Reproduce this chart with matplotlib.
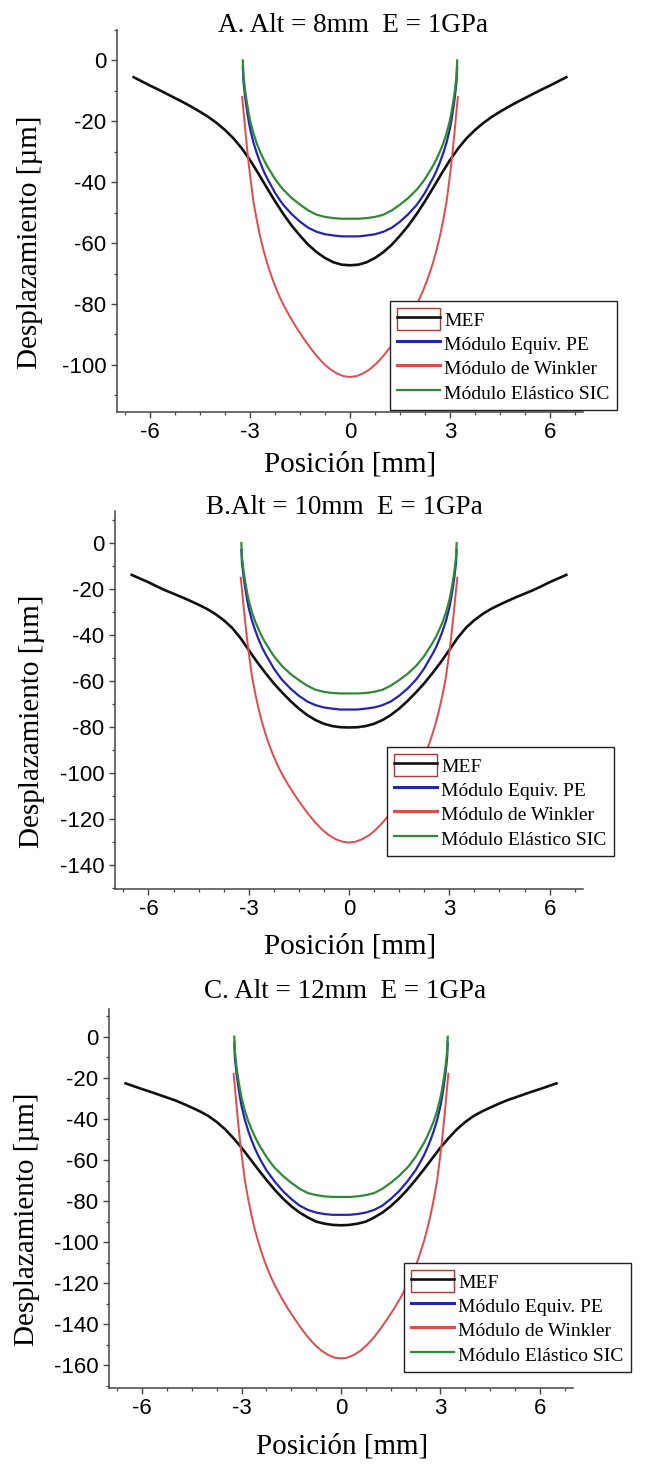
import matplotlib
matplotlib.use("Agg")
import matplotlib.pyplot as plt
import matplotlib.patches as mpatches
from matplotlib.lines import Line2D
from matplotlib.legend_handler import HandlerTuple
from matplotlib.ticker import MultipleLocator

# ---- data (x in mm, y in um) ----
x_mef = [-6.5, -6.25, -6.0, -5.75, -5.5, -5.25, -5.0, -4.75, -4.5, -4.25, -4.0, -3.75, -3.5,
         -3.25, -3.0, -2.75, -2.5, -2.25, -2.0, -1.75, -1.5, -1.25, -1.0, -0.75, -0.5, -0.25, 0,
         0.25, 0.5, 0.75, 1.0, 1.25, 1.5, 1.75, 2.0, 2.25, 2.5, 2.75, 3.0, 3.25,
         3.5, 3.75, 4.0, 4.25, 4.5, 4.75, 5.0, 5.25, 5.5, 5.75, 6.0, 6.25, 6.5]
x_sic = [-3.22, -3.2, -3.15, -3.1, -3.05, -3.0, -2.9, -2.8, -2.7, -2.6, -2.5, -2.4, -2.25, -2.1,
         -2.0, -1.75, -1.5, -1.25, -1.0, -0.75, -0.5, -0.25, 0,
         0.25, 0.5, 0.75, 1.0, 1.25, 1.5, 1.75, 2.0, 2.1, 2.25, 2.4, 2.5, 2.6, 2.7, 2.8, 2.9,
         3.0, 3.05, 3.1, 3.15, 3.2, 3.22]
x_wink = [-3.24, -3.2, -3.15, -3.1, -3.05, -3.0, -2.9, -2.8, -2.7, -2.6, -2.5, -2.4, -2.3, -2.2,
          -2.1, -2.0, -1.8, -1.6, -1.4, -1.2, -1.0, -0.8, -0.6, -0.4, -0.2, 0,
          0.2, 0.4, 0.6, 0.8, 1.0, 1.2, 1.4, 1.6, 1.8, 2.0, 2.1, 2.2, 2.3, 2.4, 2.5, 2.6, 2.7,
          2.8, 2.9, 3.0, 3.05, 3.1, 3.15, 3.2, 3.24]

# A. Alt = 8mm
mef_a = [-5.5, -6.9, -8.3, -9.6, -11.0, -12.4, -13.8, -15.3, -16.9, -18.6, -20.6, -22.9, -25.6,
         -28.9, -32.8, -37.2, -41.8, -46.3, -50.5, -54.3, -57.6, -60.6, -63.0, -64.9, -66.3, -67.1,
         -67.3,
         -67.1, -66.3, -64.9, -63.0, -60.6, -57.6, -54.3, -50.5, -46.3, -41.8, -37.2, -32.8, -28.9,
         -25.6, -22.9, -20.6, -18.6, -16.9, -15.3, -13.8, -12.4, -11.0, -9.6, -8.3, -6.9, -5.5]
pe_a = [-2, -7, -12, -16, -19.5, -22.5, -27, -30.5, -33.5, -36.2, -38.5, -40.5, -43.5, -46,
        -47.5, -50.5, -53, -55, -56.3, -57.1, -57.5, -57.8, -57.8,
        -57.8, -57.5, -57.1, -56.3, -55, -53, -50.5, -47.5, -46, -43.5, -40.5, -38.5, -36.2,
        -33.5, -30.5, -27, -22.5, -19.5, -16, -12, -7, -2]
sic_a = [0, -5, -10, -13.7, -17, -19.8, -24, -27.3, -30, -32.4, -34.5, -36.3, -39, -41.2,
         -42.5, -45.2, -47.4, -49.3, -50.7, -51.4, -51.8, -52.0, -52.0,
         -52.0, -51.8, -51.4, -50.7, -49.3, -47.4, -45.2, -42.5, -41.2, -39, -36.3, -34.5, -32.4,
         -30, -27.3, -24, -19.8, -17, -13.7, -10, -5, 0]
wink_a = [-12, -16.5, -22.5, -28, -33.3, -38, -46.5, -52.5, -57.8, -62.3, -66.2, -69.6, -72.7,
          -75.5, -78.0, -80.3, -84.3, -87.9, -91.2, -94.3, -97.1, -99.5, -101.4, -102.8, -103.7,
          -104,
          -103.7, -102.8, -101.4, -99.5, -97.1, -94.3, -91.2, -87.9, -84.3, -80.3, -78.0, -75.5,
          -72.7, -69.6, -66.2, -62.3, -57.8, -52.5, -46.5, -38, -33.3, -28, -22.5, -16.5, -12]

# B. Alt = 10mm
mef_b = [-13.8, -15.4, -17.0, -18.8, -20.5, -22.0, -23.5, -25.1, -26.8, -28.6, -30.8, -33.5, -36.8,
         -41.2, -46.5, -51.7, -56.5, -61.0, -65.0, -68.7, -72.0, -74.8, -77.0, -78.6, -79.6, -80.1,
         -80.2,
         -80.1, -79.6, -78.6, -77.0, -74.8, -72.0, -68.7, -65.0, -61.0, -56.5, -51.7, -46.5, -41.2,
         -36.8, -33.5, -30.8, -28.6, -26.8, -25.1, -23.5, -22.0, -20.5, -18.8, -17.0, -15.4, -13.8]
pe_b = [-3, -8.8, -15, -20, -24.4, -28.2, -33.8, -38.2, -42, -45.4, -48.2, -50.7, -54.5, -57.6,
        -59.5, -63.3, -66.4, -68.9, -70.5, -71.5, -72, -72.4, -72.4,
        -72.4, -72, -71.5, -70.5, -68.9, -66.4, -63.3, -59.5, -57.6, -54.5, -50.7, -48.2, -45.4,
        -42, -38.2, -33.8, -28.2, -24.4, -20, -15, -8.8, -3]
sic_b = [0, -6.3, -12.6, -17.2, -21.4, -24.9, -30.2, -34.3, -37.7, -40.8, -43.4, -45.7, -49.1,
         -51.8, -53.5, -56.9, -59.6, -62, -63.8, -64.7, -65.2, -65.4, -65.4,
         -65.4, -65.2, -64.7, -63.8, -62, -59.6, -56.9, -53.5, -51.8, -49.1, -45.7, -43.4, -40.8,
         -37.7, -34.3, -30.2, -24.9, -21.4, -17.2, -12.6, -6.3, 0]
wink_b = [-15, -20.5, -28, -35, -41.7, -47.6, -58.3, -65.8, -72.4, -78, -82.9, -87.2, -91.1,
          -94.6, -97.7, -100.6, -105.6, -110.1, -114.3, -118.2, -121.7, -124.7, -127.1, -128.8,
          -129.9, -130.3,
          -129.9, -128.8, -127.1, -124.7, -121.7, -118.2, -114.3, -110.1, -105.6, -100.6, -97.7,
          -94.6, -91.1, -87.2, -82.9, -78, -72.4, -65.8, -58.3, -47.6, -41.7, -35, -28, -20.5, -15]

# C. Alt = 12mm
mef_c = [-22.7, -24.1, -25.5, -26.8, -28.2, -29.6, -31.0, -32.7, -34.5, -36.4, -38.6, -41.5, -45.0,
         -49.3, -54.0, -59.3, -64.6, -69.7, -74.5, -78.8, -82.5, -85.6, -88.0, -90.0, -91.0, -91.6,
         -91.8,
         -91.6, -91.0, -90.0, -88.0, -85.6, -82.5, -78.8, -74.5, -69.7, -64.6, -59.3, -54.0, -49.3,
         -45.0, -41.5, -38.6, -36.4, -34.5, -32.7, -31.0, -29.6, -28.2, -26.8, -25.5, -24.1, -22.7]
pe_c = [-3, -10.5, -18, -24, -29.3, -33.8, -40.5, -45.8, -50.3, -54.3, -57.8, -60.8, -65.0, -68.3,
        -70.5, -75.2, -79.0, -82.2, -84.3, -85.6, -86.3, -86.7, -86.7,
        -86.7, -86.3, -85.6, -84.3, -82.2, -79.0, -75.2, -70.5, -68.3, -65.0, -60.8, -57.8, -54.3,
        -50.3, -45.8, -40.5, -33.8, -29.3, -24, -18, -10.5, -3]
sic_c = [0, -7.5, -15, -20.6, -25.5, -29.7, -36, -41, -45, -48.6, -51.8, -54.5, -58.5, -61.8,
         -63.8, -67.8, -71.1, -74, -76.1, -77.1, -77.7, -78, -78,
         -78, -77.7, -77.1, -76.1, -74, -71.1, -67.8, -63.8, -61.8, -58.5, -54.5, -51.8, -48.6,
         -45, -41, -36, -29.7, -25.5, -20.6, -15, -7.5, 0]
wink_c = [-18, -24.8, -33.9, -42.2, -50.2, -57.2, -70, -79, -87, -93.8, -99.7, -104.8, -109.5,
          -113.7, -117.5, -120.9, -127, -132.4, -137.3, -142, -146.2, -149.8, -152.7, -154.8,
          -156.2, -156.6,
          -156.2, -154.8, -152.7, -149.8, -146.2, -142, -137.3, -132.4, -127, -120.9, -117.5,
          -113.7, -109.5, -104.8, -99.7, -93.8, -87, -79, -70, -57.2, -50.2, -42.2, -33.9, -24.8, -18]

titles = ["A. Alt = 8mm  E = 1GPa", "B.Alt = 10mm  E = 1GPa", "C. Alt = 12mm  E = 1GPa"]
labels = ["MEF", "Módulo Equiv. PE", "Módulo de Winkler", "Módulo Elástico SIC"]
ylims = [(-115.5, 10), (-150.5, 14), (-171, 13.5)]

c_mef = "#111111"
c_pe = "#2424b4"
c_wink = "#e04a4a"
c_sic = "#2f8a35"

serif = "Liberation Serif"
sans = "Liberation Sans"

W, H = 660, 1469
fig = plt.figure(figsize=(6.6, 14.69), dpi=100)

# pixel boxes: left, right, top, bottom
boxes = [(117, 583, 30, 412), (115, 583, 511, 889), (109, 573, 1009, 1388)]
title_pos = [(353, 25), (344, 508), (345, 992)]
xlab_pos = [(350, 464), (350, 947), (342, 1447)]
ylab_pos = [(30, 242), (32, 721), (27, 1219)]
leg_pos = [(390, 301), (387, 747), (404, 1263)]

panels = [(mef_a, pe_a, wink_a, sic_a), (mef_b, pe_b, wink_b, sic_b), (mef_c, pe_c, wink_c, sic_c)]

for i, (mef, pe, wink, sic) in enumerate(panels):
    l, r, t, b = boxes[i]
    ax = fig.add_axes([l / W, 1 - b / H, (r - l) / W, (b - t) / H])
    ax.plot(x_mef, mef, color=c_mef, lw=1.9)
    ax.plot(x_sic, pe, color=c_pe, lw=1.6)
    ax.plot(x_wink, wink, color=c_wink, lw=1.4)
    ax.plot(x_sic, sic, color=c_sic, lw=1.6)

    ax.set_xlim(-7, 7)
    ax.set_ylim(*ylims[i])
    ax.xaxis.set_major_locator(MultipleLocator(3))
    ax.xaxis.set_minor_locator(MultipleLocator(0.75))
    ax.yaxis.set_major_locator(MultipleLocator(20))
    ax.yaxis.set_minor_locator(MultipleLocator(10))
    for s in ["top", "right"]:
        ax.spines[s].set_visible(False)
    for s in ["left", "bottom"]:
        ax.spines[s].set_color("#444444")
        ax.spines[s].set_linewidth(1.1)
    ax.tick_params(which="major", direction="out", length=4.5, width=1.0, color="#444444",
                   labelsize=16, pad=3)
    ax.tick_params(which="minor", direction="out", length=2.5, width=0.9, color="#444444")
    for lab in ax.get_xticklabels() + ax.get_yticklabels():
        lab.set_fontfamily(sans)
    ax.yaxis.set_major_formatter(plt.FuncFormatter(lambda v, p: "%d" % v))
    ax.xaxis.set_major_formatter(plt.FuncFormatter(lambda v, p: "%d" % v))

    # Origin-style legend: the MEF entry carries a red outlined box behind the line
    mef_handle = (mpatches.Rectangle((0, 0), 1, 1, facecolor="white", edgecolor="#a83a3a", lw=1.0),
                  Line2D([], [], color=c_mef, lw=1.9))
    handles = [mef_handle,
               Line2D([], [], color=c_pe, lw=2.2),
               Line2D([], [], color=c_wink, lw=2.2),
               Line2D([], [], color=c_sic, lw=1.6)]
    lx, ly = leg_pos[i]
    leg = ax.legend(handles, labels, loc="upper left", bbox_to_anchor=(lx / W, 1 - ly / H),
                    bbox_transform=fig.transFigure, fancybox=False, framealpha=1,
                    edgecolor="#222222", borderaxespad=0, borderpad=0.35, labelspacing=0.1,
                    handlelength=2.2, handleheight=1.4, handletextpad=0.25,
                    prop={"family": serif, "size": 14},
                    handler_map={tuple: HandlerTuple(ndivide=1, pad=0)})
    leg.get_frame().set_linewidth(1.0)

    tx, ty = title_pos[i]
    fig.text(tx / W, 1 - ty / H, titles[i], ha="center", va="center", fontsize=19.5, family=serif)
    xx, xy = xlab_pos[i]
    fig.text(xx / W, 1 - xy / H, "Posición [mm]", ha="center", va="center", fontsize=21, family=serif)
    yx, yy = ylab_pos[i]
    fig.text(yx / W, 1 - yy / H, "Desplazamiento [µm]", ha="center", va="center", rotation=90,
             fontsize=21, family=serif)

fig.savefig("out.png", dpi=100)
